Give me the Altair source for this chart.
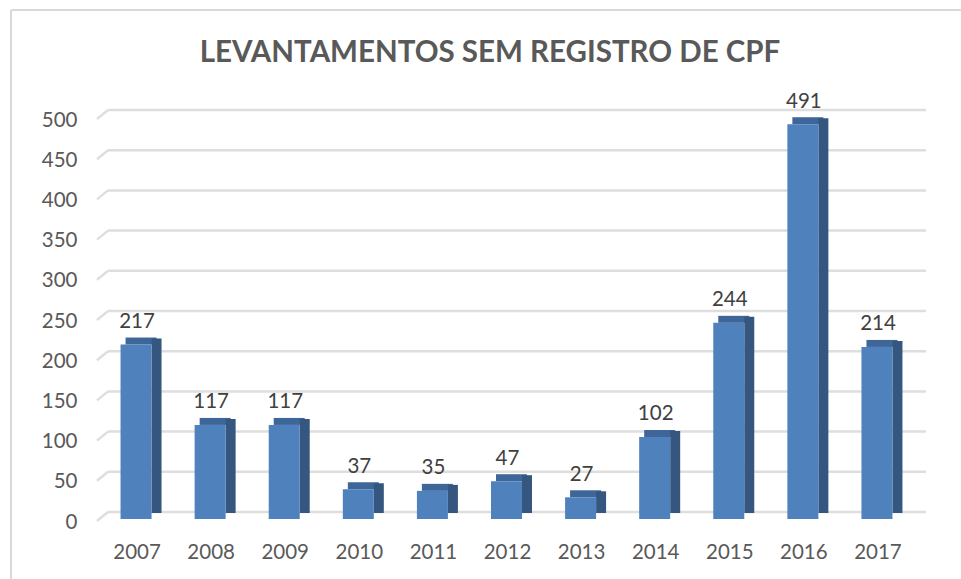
import altair as alt
import pandas as pd

years = ["2007", "2008", "2009", "2010", "2011", "2012", "2013", "2014", "2015", "2016", "2017"]
values = [217, 117, 117, 37, 35, 47, 27, 102, 244, 491, 214]
y_ticks = [0, 50, 100, 150, 200, 250, 300, 350, 400, 450, 500]
title_text = "LEVANTAMENTOS SEM REGISTRO DE CPF"

df = pd.DataFrame({"year": years, "value": values})
grid_df = pd.DataFrame({"tick": y_ticks})
title_df = pd.DataFrame({"t": [title_text]})

FONT = "Lato"

x_enc = alt.X("year:N", sort=years,
              scale=alt.Scale(paddingInner=0, paddingOuter=0),
              axis=alt.Axis(title=None, labelFontSize=20.5, labelColor="#595959",
                            labelFont=FONT, labelPadding=30, ticks=False,
                            domain=False, labelAngle=0))
y_scale = alt.Scale(domain=[0, 500], nice=False, zero=True)
y_axis = alt.Axis(title=None, values=y_ticks, labelFontSize=20.5,
                  labelColor="#595959", labelFont=FONT,
                  labelPadding=23, labelOffset=10, ticks=False,
                  domain=False, grid=False)

base = alt.Chart(df)

# gridlines (back plane) and their slanted front edge
grid = alt.Chart(grid_df).mark_rule(color="#DEDEDE", strokeWidth=2.5).encode(
    y=alt.Y("tick:Q", scale=y_scale, axis=y_axis),
    x=alt.value(8), x2=alt.value(826))
grid_slant = alt.Chart(grid_df).mark_rule(color="#DEDEDE", strokeWidth=2.5, yOffset=9).encode(
    y=alt.Y("tick:Q", scale=y_scale),
    y2="tick:Q",
    x=alt.value(-3), x2=alt.value(8))

top_face = base.mark_bar(width=31, xOffset=4, color="#3E6698", y2Offset=7).encode(
    x=x_enc, y=alt.Y("value:Q", scale=y_scale), y2=alt.Y2("value:Q"))

side_face = base.mark_bar(width=10, xOffset=19.5, color="#35577F",
                          yOffset=1, y2Offset=5).encode(
    x=x_enc, y=alt.Y("value:Q", scale=y_scale))

front = base.mark_bar(width=31, xOffset=-1, color="#4F81BD",
                      yOffset=7, y2Offset=8).encode(
    x=x_enc, y=alt.Y("value:Q", scale=y_scale))

labels = base.mark_text(fontSize=20.5, font=FONT, color="#404040",
                        baseline="alphabetic", dy=-9.5).encode(
    x=x_enc, y=alt.Y("value:Q", scale=y_scale), text="value:Q")

title = alt.Chart(title_df).mark_text(fontSize=29.5, font=FONT, fontWeight="bold",
                                      color="#595959", align="center",
                                      baseline="middle").encode(
    text="t:N", x=alt.value(390), y=alt.value(-57))

border_top = alt.Chart(title_df).mark_rule(color="#D9D9D9", strokeWidth=2).encode(
    x=alt.value(-89), x2=alt.value(870), y=alt.value(-100))
border_left = alt.Chart(title_df).mark_rule(color="#D9D9D9", strokeWidth=2).encode(
    x=alt.value(-89), y=alt.value(-100), y2=alt.value(480))

chart = alt.layer(
    border_top, border_left, grid, grid_slant, top_face, side_face, front, labels, title
).properties(
    width=815, height=402,
    autosize=alt.AutoSizeParams(type="none"),
    padding={"left": 100, "top": 110, "right": 46, "bottom": 67},
).configure(background="white").configure_view(stroke=None)

chart.save("out.html", embed_options={"renderer": "svg", "actions": False})
